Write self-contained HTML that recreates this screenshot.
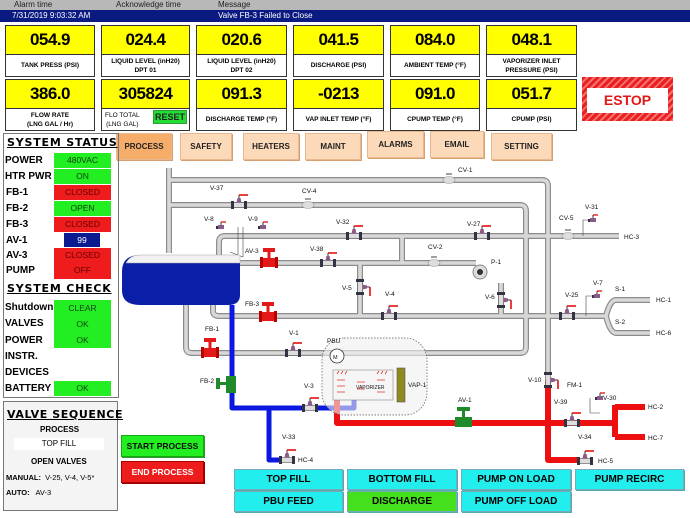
<!DOCTYPE html>
<html><head><meta charset="utf-8"><style>
*{margin:0;padding:0;box-sizing:border-box}
body{width:690px;height:518px;background:#fff;position:relative;overflow:hidden;font-family:"Liberation Sans",sans-serif}
.a{position:absolute}
.hdr{left:0;top:0;width:690px;height:10px;background:#b8b8b8;font-size:8px;color:#222;line-height:10px}
.msg{left:0;top:10px;width:690px;height:12px;background:#0a1a80;color:#fff;font-size:8px;line-height:12px}
.ty{background:#ffff00;border:1px solid #333;font-weight:bold;font-size:17px;text-align:center;line-height:28px;letter-spacing:-0.5px}
.tl{background:#fff;border:1px solid #333;border-top:none;font-weight:bold;font-size:6.5px;text-align:center;display:flex;align-items:center;justify-content:center;line-height:9px}
.nav{background:#fcd9b8;border:1px solid #e8b890;box-shadow:1px 1px 0 #d8a070;font-weight:bold;font-size:8px;text-align:center;line-height:26px;color:#222}
.lp{font-weight:bold;font-size:10px;color:#000;line-height:15px}
.v{font-size:8.5px;text-align:center;line-height:15px}
.g{background:#22ee22;color:#114411}
.r{background:#ee1c1c;color:#660000}
.cb{background:#22eeee;border:1px solid #7ab;font-weight:bold;font-size:10px;text-align:center;line-height:20px;box-shadow:1px 1px 0 #5aa}
svg text{font-family:"Liberation Sans",sans-serif;font-size:6.5px;fill:#111}
</style></head><body>
<div class="a hdr"><span class="a" style="left:14px">Alarm time</span><span class="a" style="left:116px">Acknowledge time</span><span class="a" style="left:218px">Message</span></div>
<div class="a msg"><span class="a" style="left:12px">7/31/2019 9:03:32 AM</span><span class="a" style="left:218px">Valve FB-3 Failed to Close</span></div>

<div class="a ty" style="left:5px;top:25px;width:90px;height:30px">054.9</div><div class="a tl" style="left:5px;top:55px;width:90px;height:22px">TANK PRESS (PSI)</div>
<div class="a ty" style="left:101px;top:25px;width:89px;height:30px">024.4</div><div class="a tl" style="left:101px;top:55px;width:89px;height:22px">LIQUID LEVEL (inH20)<br>DPT 01</div>
<div class="a ty" style="left:196px;top:25px;width:91px;height:30px">020.6</div><div class="a tl" style="left:196px;top:55px;width:91px;height:22px">LIQUID LEVEL (inH20)<br>DPT 02</div>
<div class="a ty" style="left:293px;top:25px;width:91px;height:30px">041.5</div><div class="a tl" style="left:293px;top:55px;width:91px;height:22px">DISCHARGE (PSI)</div>
<div class="a ty" style="left:390px;top:25px;width:90px;height:30px">084.0</div><div class="a tl" style="left:390px;top:55px;width:90px;height:22px">AMBIENT TEMP (°F)</div>
<div class="a ty" style="left:486px;top:25px;width:91px;height:30px">048.1</div><div class="a tl" style="left:486px;top:55px;width:91px;height:22px">VAPORIZER INLET<br>PRESSURE (PSI)</div>

<div class="a ty" style="left:5px;top:79px;width:90px;height:30px">386.0</div><div class="a tl" style="left:5px;top:109px;width:90px;height:22px">FLOW RATE<br>(LNG GAL / Hr)</div>
<div class="a ty" style="left:101px;top:79px;width:89px;height:30px">305824</div><div class="a tl" style="left:101px;top:109px;width:89px;height:22px;justify-content:flex-start;padding-left:3px;font-weight:normal">FLO TOTAL<br>(LNG GAL)</div>
<div class="a" style="left:153px;top:110px;width:34px;height:14px;background:#22dd33;border:1px solid #393;font-weight:bold;font-size:9px;text-align:center;line-height:12px;color:#222">RESET</div>
<div class="a ty" style="left:196px;top:79px;width:91px;height:30px">091.3</div><div class="a tl" style="left:196px;top:109px;width:91px;height:22px">DISCHARGE TEMP (°F)</div>
<div class="a ty" style="left:293px;top:79px;width:91px;height:30px">-0213</div><div class="a tl" style="left:293px;top:109px;width:91px;height:22px">VAP INLET TEMP (°F)</div>
<div class="a ty" style="left:390px;top:79px;width:90px;height:30px">091.0</div><div class="a tl" style="left:390px;top:109px;width:90px;height:22px">CPUMP TEMP (°F)</div>
<div class="a ty" style="left:486px;top:79px;width:91px;height:30px">051.7</div><div class="a tl" style="left:486px;top:109px;width:91px;height:22px">CPUMP (PSI)</div>
<div class="a" style="left:582px;top:77px;width:91px;height:44px;background:repeating-linear-gradient(135deg,#e82020 0 3px,#f87070 3px 5px)"></div>
<div class="a" style="left:587px;top:88px;width:81px;height:25px;background:#fff;color:#e21818;font-weight:bold;font-size:14px;text-align:center;line-height:25px">ESTOP</div>

<div class="a nav" style="left:116px;top:133px;width:56px;height:27px;background:#f7ad6a">PROCESS</div>
<div class="a nav" style="left:180px;top:133px;width:52px;height:27px">SAFETY</div>
<div class="a nav" style="left:243px;top:133px;width:56px;height:27px">HEATERS</div>
<div class="a nav" style="left:305px;top:133px;width:56px;height:27px">MAINT</div>
<div class="a nav" style="left:367px;top:131px;width:57px;height:27px">ALARMS</div>
<div class="a nav" style="left:430px;top:131px;width:54px;height:27px">EMAIL</div>
<div class="a nav" style="left:491px;top:133px;width:61px;height:27px">SETTING</div>

<div class="a" style="left:3px;top:133px;width:116px;height:265px;border:1px solid #777"></div>
<div class="a lp" style="left:7px;top:135px;font-size:11px;letter-spacing:0.8px;text-decoration:underline;font-family:'DejaVu Sans',sans-serif;font-weight:900">SYSTEM STATUS</div>
<div class="a lp" style="left:5px;top:153px">POWER</div><div class="a v g" style="left:54px;top:153px;width:57px">480VAC</div>
<div class="a lp" style="left:5px;top:169px">HTR PWR</div><div class="a v g" style="left:54px;top:169px;width:57px">ON</div>
<div class="a lp" style="left:6px;top:185px">FB-1</div><div class="a v r" style="left:54px;top:185px;width:57px">CLOSED</div>
<div class="a lp" style="left:6px;top:201px">FB-2</div><div class="a v g" style="left:54px;top:201px;width:57px">OPEN</div>
<div class="a lp" style="left:6px;top:217px">FB-3</div><div class="a v r" style="left:54px;top:217px;width:57px">CLOSED</div>
<div class="a lp" style="left:6px;top:233px">AV-1</div><div class="a v" style="left:64px;top:233px;width:36px;background:#0c1a90;color:#fff;line-height:14px;height:14px">99</div>
<div class="a lp" style="left:6px;top:248px">AV-3</div><div class="a v r" style="left:54px;top:248px;width:57px;height:31px">CLOSED<br>OFF</div>
<div class="a lp" style="left:6px;top:263px">PUMP</div>
<div class="a lp" style="left:7px;top:281px;font-size:11px;letter-spacing:0.8px;text-decoration:underline;font-family:'DejaVu Sans',sans-serif;font-weight:900">SYSTEM CHECK</div>
<div class="a v g" style="left:54px;top:300px;width:57px;height:48px;line-height:16px">CLEAR<br>OK<br>OK</div>
<div class="a lp" style="left:5px;top:300px">Shutdown</div>
<div class="a lp" style="left:5px;top:316px">VALVES</div>
<div class="a lp" style="left:5px;top:333px">POWER</div>
<div class="a lp" style="left:5px;top:349px">INSTR.</div>
<div class="a lp" style="left:5px;top:365px">DEVICES</div>
<div class="a lp" style="left:5px;top:381px">BATTERY</div><div class="a v g" style="left:54px;top:381px;width:57px">OK</div>

<div class="a" style="left:3px;top:401px;width:115px;height:110px;border:1px solid #777;background:#f4f4f4"></div>
<div class="a lp" style="left:7px;top:407px;font-size:11px;letter-spacing:0.6px;text-decoration:underline;font-family:'DejaVu Sans',sans-serif;font-weight:900">VALVE SEQUENCE</div>
<div class="a" style="left:40px;top:425px;font-size:8px;font-weight:bold">PROCESS</div>
<div class="a" style="left:14px;top:438px;width:90px;height:12px;background:#fff;font-size:8px;text-align:center;line-height:12px">TOP FILL</div>
<div class="a" style="left:31px;top:457px;font-size:8px;font-weight:bold">OPEN VALVES</div>
<div class="a" style="left:6px;top:473px;font-size:7.5px"><b>MANUAL:</b>&nbsp; V-25, V-4, V-5*</div>
<div class="a" style="left:6px;top:488px;font-size:7.5px"><b>AUTO:</b>&nbsp;&nbsp; AV-3</div>

<svg class="a" style="left:0;top:0" width="690" height="518" viewBox="0 0 690 518">
<defs>
<g id="vh"><rect x="-6" y="-2.5" width="12" height="5" fill="#ddd" stroke="#555" stroke-width="0.6"/><rect x="-8" y="-4" width="3" height="8" fill="#334"/><rect x="5" y="-4" width="3" height="8" fill="#334"/><path d="M-2.5,-2.5 L2.5,-2.5 L1.5,-7 L-1.5,-7Z" fill="#8a5a8a"/><line x1="0" y1="-7" x2="0" y2="-10" stroke="#333" stroke-width="1"/><line x1="0" y1="-10" x2="9" y2="-10" stroke="#e01010" stroke-width="1.6"/></g>
<g id="vs"><rect x="-3" y="-2" width="6" height="4" fill="#8a5a8a"/><rect x="-5" y="-1" width="2" height="3" fill="#334"/><line x1="0" y1="-2" x2="0" y2="-5" stroke="#333"/><line x1="0" y1="-5" x2="5" y2="-5" stroke="#e01010" stroke-width="1.3"/></g>
<g id="vb"><rect x="-8" y="-4" width="16" height="9" fill="#e41a1a"/><rect x="-9" y="-5" width="3" height="11" fill="#b00"/><rect x="6" y="-5" width="3" height="11" fill="#b00"/><rect x="-1.5" y="-11" width="3" height="7" fill="#e41a1a"/><rect x="-6" y="-14" width="12" height="4" fill="#e41a1a"/></g>
<g id="ck"><ellipse cx="0" cy="0" rx="6" ry="3.5" fill="#ddd" stroke="#999" stroke-width="0.6"/><line x1="-3" y1="-6" x2="3" y2="-6" stroke="#111" stroke-width="0.8"/></g>
</defs>
<g fill="none" stroke-linejoin="round">
<g stroke="#8c8c8c" stroke-width="6">
<path d="M169,168 V253 M169,180 H542 Q548,180 548,186 V372"/>
<path d="M169,205 H520 Q526,205 526,211 V347 Q526,353 520,353 H192 Q186,353 186,347 V305"/>
<path d="M219,255 V242 Q219,236 225,236 H619"/>
<path d="M240,263 H476 M402,236 V263 M360,263 V316 M501,283 V316"/>
<path d="M213,305 V311 Q213,316 219,316 H606 Q610,300 616,300 H650 M606,316 Q610,333 616,333 H650"/>
</g>
<g stroke="#d8d8d8" stroke-width="3.6">
<path d="M169,168 V253 M169,180 H542 Q548,180 548,186 V372"/>
<path d="M169,205 H520 Q526,205 526,211 V347 Q526,353 520,353 H192 Q186,353 186,347 V305"/>
<path d="M219,255 V242 Q219,236 225,236 H619"/>
<path d="M240,263 H476 M402,236 V263 M360,263 V316 M501,283 V316"/>
<path d="M213,305 V311 Q213,316 219,316 H606 Q610,300 616,300 H650 M606,316 Q610,333 616,333 H650"/>
</g>
<path d="M232,305 V408 H354 V398 M269,408 V460 H290" stroke="#0a18e0" stroke-width="5"/>
<path d="M337,398 V423 H615 M548,380 V460 H580 M615,405 V437 M615,407 H645 M615,437 H645" stroke="#ee1010" stroke-width="6"/>
<path d="M238,227 V257 M243,227 V257 L230,252 M583,236 V220 H590 M590,398 V413 H600 M597,296 H586 V316" stroke="#444" stroke-width="0.6"/>
</g>
<path d="M140,255 H240 V295 Q240,305 228,305 H140 Q122,305 122,290 V272 Q122,255 140,255Z" fill="#0a1ea8"/>
<path d="M140,255 H240 V263 H126 Q130,255 140,255Z" fill="#f2f2f2" stroke="#aaa" stroke-width="0.5"/>
<rect x="322" y="338" width="105" height="77" rx="22" fill="#f0f0f0" fill-opacity="0.6" stroke="#555" stroke-width="0.7" stroke-dasharray="1.5,1.5"/>
<rect x="333" y="370" width="60" height="30" fill="#f6f6f6" stroke="#888" stroke-width="0.6"/>
<g stroke="#e03030" stroke-width="0.8"><path d="M337,380h8M337,386h8M337,392h8M357,382h8M357,389h8M377,380h8M377,392h8M337,374l2,-3M341,374l2,-3M345,374l2,-3M377,374l2,-3M381,374l2,-3M385,374l2,-3"/></g>
<text x="356" y="389" style="font-size:5px">VAPORIZER</text>
<rect x="397" y="368" width="8" height="34" fill="#8f8a20" stroke="#555" stroke-width="0.6"/>
<circle cx="337" cy="356" r="7" fill="#fff" stroke="#333" stroke-width="0.8"/><text x="333" y="359" style="font-size:5.5px">M</text>
<circle cx="480" cy="272" r="7" fill="#ddd" stroke="#888"/><circle cx="480" cy="272" r="3" fill="#333"/>
<use href="#vh" x="239" y="205"/><use href="#vh" x="328" y="263"/><use href="#vh" x="354" y="236"/><use href="#vh" x="482" y="236"/>
<use href="#vh" x="389" y="316"/><use href="#vh" x="567" y="316"/><use href="#vh" x="293" y="353"/><use href="#vh" x="310" y="408"/>
<use href="#vh" x="572" y="423"/><use href="#vh" x="287" y="460"/><use href="#vh" x="585" y="461"/>
<use href="#vh" transform="translate(360,287) rotate(90)"/><use href="#vh" transform="translate(501,300) rotate(90)"/><use href="#vh" transform="translate(548,380) rotate(90)"/>
<use href="#vs" x="221" y="227"/><use href="#vs" x="263" y="227"/><use href="#vs" x="593" y="220"/><use href="#vs" x="597" y="296"/><use href="#vs" x="600" y="398"/>
<use href="#ck" x="308" y="205"/><use href="#ck" x="449" y="180"/><use href="#ck" x="434" y="263"/><use href="#ck" x="568" y="236"/>
<use href="#vb" x="269" y="262"/><use href="#vb" x="268" y="316"/><use href="#vb" x="210" y="352"/>
<g fill="#1e8a2a"><rect x="455" y="417" width="17" height="10"/><rect x="462" y="410" width="3" height="7"/><rect x="457" y="407" width="13" height="4"/>
<rect x="226" y="376" width="10" height="17"/><rect x="219" y="382" width="7" height="3"/><rect x="216" y="378" width="4" height="11"/></g>
<text x="210" y="190">V-37</text><text x="302" y="193">CV-4</text><text x="458" y="172">CV-1</text>
<text x="204" y="221">V-8</text><text x="248" y="221">V-9</text><text x="245" y="253">AV-3</text>
<text x="310" y="251">V-38</text><text x="336" y="224">V-32</text><text x="467" y="226">V-27</text>
<text x="428" y="249">CV-2</text><text x="491" y="264">P-1</text><text x="342" y="290">V-5</text>
<text x="385" y="296">V-4</text><text x="485" y="299">V-6</text><text x="559" y="220">CV-5</text>
<text x="585" y="209">V-31</text><text x="624" y="239">HC-3</text><text x="565" y="297">V-25</text>
<text x="593" y="285">V-7</text><text x="615" y="291">S-1</text><text x="615" y="324">S-2</text>
<text x="656" y="302">HC-1</text><text x="656" y="335">HC-6</text><text x="245" y="306">FB-3</text>
<text x="205" y="331">FB-1</text><text x="289" y="335">V-1</text><text x="327" y="343">PBU</text>
<text x="408" y="387">VAP-1</text><text x="200" y="383">FB-2</text><text x="304" y="388">V-3</text>
<text x="458" y="402">AV-1</text><text x="528" y="382">V-10</text><text x="567" y="387">FM-1</text>
<text x="554" y="404">V-39</text><text x="603" y="400">V-30</text><text x="648" y="409">HC-2</text>
<text x="648" y="440">HC-7</text><text x="282" y="439">V-33</text><text x="298" y="462">HC-4</text>
<text x="578" y="439">V-34</text><text x="598" y="463">HC-5</text>
</svg>

<div class="a" style="left:121px;top:435px;width:83px;height:22px;background:#22ee22;border:1px solid #1a1;color:#0a0a0a;font-weight:bold;font-size:8.5px;text-align:center;line-height:20px;box-shadow:1px 1px 0 #393">START PROCESS</div>
<div class="a" style="left:121px;top:461px;width:83px;height:22px;background:#ee1c1c;border:1px solid #a00;color:#fff;font-weight:bold;font-size:8.5px;text-align:center;line-height:20px;box-shadow:1px 1px 0 #900">END PROCESS</div>
<div class="a cb" style="left:234px;top:469px;width:109px;height:21px">TOP FILL</div>
<div class="a cb" style="left:347px;top:469px;width:110px;height:21px">BOTTOM FILL</div>
<div class="a cb" style="left:461px;top:469px;width:110px;height:21px">PUMP ON LOAD</div>
<div class="a cb" style="left:575px;top:469px;width:109px;height:21px">PUMP RECIRC</div>
<div class="a cb" style="left:234px;top:491px;width:109px;height:21px">PBU FEED</div>
<div class="a cb" style="left:347px;top:491px;width:110px;height:21px;background:#44e01c">DISCHARGE</div>
<div class="a cb" style="left:461px;top:491px;width:110px;height:21px">PUMP OFF LOAD</div>
</body></html>
